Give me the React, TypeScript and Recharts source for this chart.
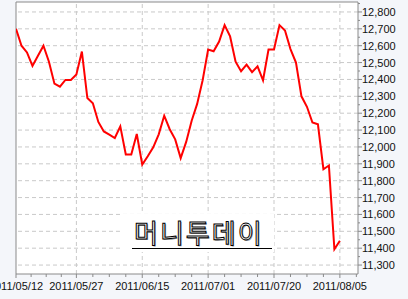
import { LineChart, Line, XAxis, YAxis, CartesianGrid, ReferenceLine } from 'recharts'

// ── Close prices, one per trading day, 2011/05/12 → 2011/08/05 ──
const closes = [
  12700, 12600, 12560, 12480, 12540, 12600, 12505, 12375, 12357, 12397,
  12397, 12430, 12565, 12290, 12259, 12148, 12092, 12073, 12053, 12122,
  11955, 11955, 12077, 11895, 11945, 11998, 12075, 12185, 12105, 12045,
  11934, 12030, 12155, 12255, 12395, 12577, 12567, 12625, 12722, 12655,
  12505, 12449, 12488, 12443, 12478, 12395, 12577, 12577, 12722, 12690,
  12580, 12500, 12300, 12238, 12145, 12134, 11868, 11890, 11394, 11444,
]

const dateLabels = ['2011/05/12', '2011/05/27', '2011/06/15', '2011/07/01', '2011/07/20', '2011/08/05']
const dateIndex = [0, 11, 23, 35, 47, 59]

const priceTicks = [11300, 11400, 11500, 11600, 11700, 11800, 11900, 12000, 12100, 12200, 12300, 12400, 12500, 12600, 12700, 12800]

const X_MAX = 62.3
const Y_MIN = 11247
const Y_MAX = 12859

const data = closes.map((v, i) => ({ i, v }))

// minor ticks: quarters between the labelled dates, plus one after the last
const xMinor: number[] = []
dateIndex.forEach((d, k) => {
  const next = dateIndex[k + 1] ?? d + 12
  for (let q = 1; q < 4; q++) {
    const t = d + ((next - d) * q) / 4
    if (t <= X_MAX) xMinor.push(Math.round(t * 100) / 100)
  }
})
const xTicks = [...dateIndex, ...xMinor].sort((a, b) => a - b)
const yTicks = [...priceTicks, ...priceTicks.map(p => p + 50).filter(p => p < Y_MAX)].sort((a, b) => a - b)

const AXIS = '#8a8a8a'
const GRID = '#c9c9c9'
const FONT = '"Liberation Sans", Arial, sans-serif'

const XTick = ({ x, y, payload }: any) => {
  const k = dateIndex.indexOf(payload.value)
  return (
    <g>
      <line x1={x} x2={x} y1={y} y2={y + (k >= 0 ? 4 : 3)} stroke={AXIS} />
      {k >= 0 && (
        <text x={x} y={y + 16} textAnchor="middle" fontSize={11} fontFamily={FONT} fill="#111">
          {dateLabels[k]}
        </text>
      )}
    </g>
  )
}

const YTick = ({ x, y, payload }: any) => {
  const major = priceTicks.includes(payload.value)
  return (
    <g>
      <line x1={x} x2={x + (major ? 4 : 2)} y1={y} y2={y} stroke={AXIS} />
      {major && (
        <text x={x + 4} y={y + 4} textAnchor="start" fontSize={11} fontFamily={FONT} fill="#111">
          {payload.value.toLocaleString('en-US')}
        </text>
      )}
    </g>
  )
}

export default function App() {
  return (
    <div style={{ position: 'absolute', left: 0, top: 0, width: 408, height: 299, background: '#f4f6fa', overflow: 'hidden' }}>
      <LineChart width={408} height={299} data={data} margin={{ top: 2, right: 0, bottom: 0, left: 16 }}>
        <CartesianGrid fill="#ffffff" horizontal={false} vertical={false} />
        {priceTicks.map(p => (
          <ReferenceLine key={'h' + p} y={p} stroke={GRID} strokeDasharray="4 3" />
        ))}
        {dateIndex.slice(1).map(d => (
          <ReferenceLine key={'v' + d} x={d} stroke={GRID} strokeDasharray="4 3" />
        ))}
        <ReferenceLine x={0} stroke={AXIS} ifOverflow="visible" />
        <ReferenceLine y={Y_MAX} stroke={AXIS} ifOverflow="visible" />
        <XAxis
          dataKey="i" type="number" domain={[0, X_MAX]} allowDataOverflow
          ticks={xTicks} interval={0} height={25}
          tickSize={0} tickMargin={0} tickLine={false}
          axisLine={{ stroke: AXIS }} tick={(p: any) => <XTick {...p} />}
        />
        <YAxis
          orientation="right" type="number" domain={[Y_MIN, Y_MAX]} allowDataOverflow
          ticks={yTicks} interval={0} width={50}
          tickSize={0} tickMargin={0} tickLine={false}
          axisLine={{ stroke: AXIS }} tick={(p: any) => <YTick {...p} />}
        />
        <Line type="linear" dataKey="v" stroke="#ff0000" strokeWidth={2} dot={false} isAnimationActive={false} />
      </LineChart>

      {/* watermark */}
      <div style={{ position: 'absolute', left: 123, top: 214, width: 151, height: 38, background: '#fff' }}>
        <div style={{
          position: 'absolute', left: 9, top: 0, width: 140, height: 34,
          borderBottom: '1.5px solid #000',
        }}>
          <div style={{
            fontFamily: '"Noto Sans CJK KR", sans-serif', fontSize: 26, lineHeight: '30px',
            letterSpacing: 2, color: '#fff', WebkitTextStroke: '1px #000',
            textShadow: '1px 1px 0 #999', whiteSpace: 'nowrap', marginTop: 3, marginLeft: 2,
          }}>
            머니투데이
          </div>
        </div>
      </div>
    </div>
  )
}
